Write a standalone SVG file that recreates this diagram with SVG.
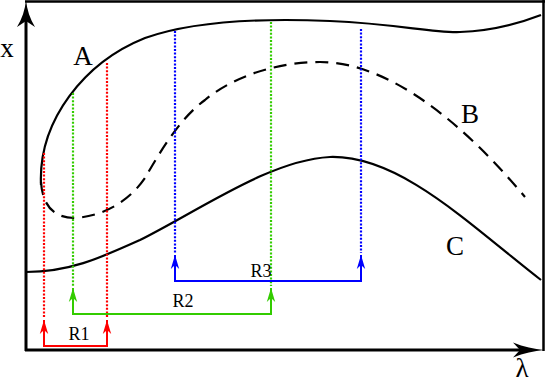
<svg xmlns="http://www.w3.org/2000/svg" width="545" height="384" viewBox="0 0 545 384">
<style>
.lbl{font-family:"Liberation Serif","Times New Roman",serif;fill:#000;text-anchor:middle}
.big{font-size:27px}
.sm{font-size:18px}
.curve{fill:none;stroke:#000;stroke-width:2.2}
.dot{fill:none;stroke-width:2.2;stroke-dasharray:2,1.6}
.br{fill:none;stroke-width:2}
</style>
<defs>
<marker id="ar" viewBox="-15 -5 16 10" markerWidth="16" markerHeight="10" refX="0" refY="0" markerUnits="userSpaceOnUse" orient="auto-start-reverse"><path d="M0,0 L-14,-4.2 L-10,0 L-14,4.2 Z" fill="#f00"/></marker>
<marker id="ag" viewBox="-15 -5 16 10" markerWidth="16" markerHeight="10" refX="0" refY="0" markerUnits="userSpaceOnUse" orient="auto-start-reverse"><path d="M0,0 L-14,-4.2 L-10,0 L-14,4.2 Z" fill="#33cc00"/></marker>
<marker id="ab" viewBox="-15 -5 16 10" markerWidth="16" markerHeight="10" refX="0" refY="0" markerUnits="userSpaceOnUse" orient="auto-start-reverse"><path d="M0,0 L-14,-4.2 L-10,0 L-14,4.2 Z" fill="#0000ff"/></marker>
</defs>
<g id="frame">
<path d="M26,351 V16" stroke="#000" stroke-width="3" fill="none"/>
<path d="M26,0 C27,10 30,19 35,27 L26,21 L17,27 C22,19 25,10 26,0 Z" fill="#000"/>
<path d="M25,1.5 H545" stroke="#000" stroke-width="2.5" fill="none"/>
<path d="M543.5,0 V351" stroke="#000" stroke-width="2.5" fill="none"/>
<path d="M25,350 H525" stroke="#000" stroke-width="3" fill="none"/>
<path d="M544,350 C534,351 524,353 513,357.5 L520,350 L513,342.5 C524,347 534,349 544,350 Z" fill="#000"/>
</g>
<g id="curveA"><path class="curve" d="M41,185 C38,120 85,62 145,38 C190,22 260,18 330,21 C400,24 430,33 460,32 C490,31 515,25 541,15"/></g>
<g id="curveB"><path class="curve" stroke-dasharray="13,8" d="M41,182 C43,212 60,218 75,218 C105,216 130,200 145,178 C160,152 180,118 205,100 C235,75 280,62 320,62 C390,62 465,125 525,197"/></g>
<g id="curveC"><path class="curve" d="M26,272 C70,272 100,258 140,240 C200,210 270,160 330,157 C400,155 470,225 541,280"/></g>
<g id="connectors">
<path class="dot" stroke="#f00" d="M44,153 V318 M107,63 V318"/>
<path class="dot" stroke="#33cc00" d="M73,93 V286 M271,22 V286"/>
<path class="dot" stroke="#0000ff" d="M175,31 V253 M361,29 V253"/>
<path class="br" stroke="#f00" d="M44,320 V346 H107 V320" marker-start="url(#ar)" marker-end="url(#ar)"/>
<path class="br" stroke="#33cc00" d="M73,288 V314 H271 V288" marker-start="url(#ag)" marker-end="url(#ag)"/>
<path class="br" stroke="#0000ff" d="M175,255 V281 H361 V255" marker-start="url(#ab)" marker-end="url(#ab)"/>
</g>
<g id="labels">
<text class="lbl big" x="7" y="57">x</text>
<text class="lbl big" x="83" y="65">A</text>
<text class="lbl big" x="470" y="123">B</text>
<text class="lbl big" x="455" y="255">C</text>
<text class="lbl big" x="522" y="377">λ</text>
<text class="lbl sm" x="79" y="340">R1</text>
<text class="lbl sm" x="183" y="307">R2</text>
<text class="lbl sm" x="261" y="277">R3</text>
</g>
</svg>
